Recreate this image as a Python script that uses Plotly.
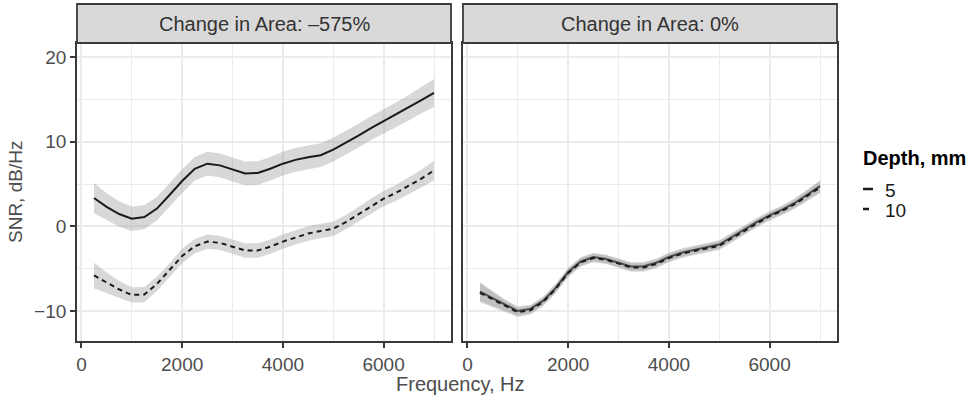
import plotly.graph_objects as go

W, H = 972, 403

# ---------------- data ----------------
freq = [250, 500, 750, 1000, 1250, 1500, 1750, 2000, 2250, 2500, 2750, 3000, 3250, 3500,
        3750, 4000, 4250, 4500, 4750, 5000, 5250, 5500, 5750, 6000, 6250, 6500, 6750, 7000]

panels = ["Change in Area: –575%", "Change in Area: 0%"]
depths = ["5", "10"]

# Change in Area -575%
snr_m575_d5 = [3.34, 2.3, 1.45, 0.9, 1.1, 2.1, 3.7, 5.35, 6.8, 7.4, 7.2, 6.7, 6.25, 6.3,
               6.8, 7.4, 7.85, 8.15, 8.4, 9.05, 9.85, 10.7, 11.6, 12.4, 13.2, 14.0, 14.9, 15.75]
se_m575_d5 = [1.8, 1.6, 1.5, 1.45, 1.4, 1.4, 1.4, 1.4, 1.4, 1.4, 1.4, 1.4, 1.4, 1.4,
              1.4, 1.4, 1.4, 1.4, 1.4, 1.4, 1.4, 1.4, 1.4, 1.4, 1.45, 1.5, 1.55, 1.65]
snr_m575_d10 = [-5.8, -6.65, -7.45, -8.1, -8.05, -6.8, -5.2, -3.5, -2.35, -1.8, -1.95, -2.4, -2.85, -2.85,
                -2.4, -1.8, -1.3, -0.85, -0.55, -0.28, 0.5, 1.42, 2.4, 3.27, 3.97, 4.76, 5.63, 6.6]
se_m575_d10 = [1.5, 1.2, 1.0, 0.9, 0.9, 0.85, 0.85, 0.85, 0.85, 0.85, 0.85, 0.85, 0.85, 0.85,
               0.85, 0.85, 0.85, 0.85, 0.85, 0.85, 0.85, 0.85, 0.9, 0.9, 0.95, 1.0, 1.05, 1.15]

# Change in Area 0%
snr_0_d5 = [-7.7, -8.5, -9.3, -10.0, -9.75, -8.8, -7.3, -5.4, -4.15, -3.62, -3.85, -4.3, -4.75, -4.72,
            -4.3, -3.62, -3.12, -2.78, -2.44, -2.15, -1.26, -0.37, 0.52, 1.3, 1.97, 2.76, 3.75, 4.75]
se_0_d5 = [1.1, 0.85, 0.65, 0.55, 0.5, 0.5, 0.5, 0.5, 0.5, 0.5, 0.5, 0.5, 0.5, 0.5,
           0.5, 0.5, 0.5, 0.5, 0.5, 0.5, 0.5, 0.5, 0.5, 0.5, 0.5, 0.55, 0.6, 0.7]
snr_0_d10 = [-7.85, -8.65, -9.45, -10.15, -9.9, -8.95, -7.4, -5.5, -4.25, -3.75, -3.95, -4.4, -4.85, -4.85,
             -4.45, -3.75, -3.25, -2.9, -2.58, -2.3, -1.4, -0.5, 0.4, 1.2, 1.85, 2.62, 3.6, 4.6]
se_0_d10 = [1.1, 0.85, 0.65, 0.55, 0.5, 0.5, 0.5, 0.5, 0.5, 0.5, 0.5, 0.5, 0.5, 0.5,
            0.5, 0.5, 0.5, 0.5, 0.5, 0.5, 0.5, 0.5, 0.5, 0.5, 0.5, 0.55, 0.6, 0.7]

x_ticks = [0, 2000, 4000, 6000]
y_ticks = [-10, 0, 10, 20]

series = [
    (0, "5", snr_m575_d5, se_m575_d5),
    (0, "10", snr_m575_d10, se_m575_d10),
    (1, "5", snr_0_d5, se_0_d5),
    (1, "10", snr_0_d10, se_0_d10),
]

# ---------------- style / layout ----------------
FONT = "Liberation Sans, Arial, Helvetica, sans-serif"
TICK_COL = "#4d4d4d"
BORDER = "#3a3a3a"
GRID = "#ebebeb"
RIBBON = "rgba(153,153,153,0.38)"
LINE = "#1a1a1a"
dash_style = {"5": "solid", "10": "5px,4px"}

def px_x(p):
    return p / W

def px_y(p):
    return 1 - p / H

x_domains = [[px_x(77), px_x(451)], [px_x(463), px_x(837)]]
y_domain = [px_y(341), px_y(43)]

fig = go.Figure()

for panel, depth, vals, se in series:
    xa = "x" if panel == 0 else "x2"
    ya = "y" if panel == 0 else "y2"
    upper = [v + s for v, s in zip(vals, se)]
    lower = [v - s for v, s in zip(vals, se)]
    fig.add_trace(go.Scatter(
        x=freq + freq[::-1], y=upper + lower[::-1],
        fill="toself", fillcolor=RIBBON, line=dict(width=0),
        mode="lines", hoverinfo="skip", showlegend=False, xaxis=xa, yaxis=ya))
    fig.add_trace(go.Scatter(
        x=freq, y=vals, mode="lines",
        line=dict(color=LINE, width=2, dash=dash_style[depth]),
        name=depth, showlegend=False, xaxis=xa, yaxis=ya))

x_range = [-87.5, 7337.5]
y_range = [-13.54, 21.65]

common_x = dict(
    range=x_range, tickvals=x_ticks, ticks="outside", ticklen=5, tickwidth=1.5,
    tickcolor=BORDER, showline=True, linecolor=BORDER, linewidth=1.8, mirror=True,
    showgrid=True, gridcolor=GRID, gridwidth=1.6, zeroline=False,
    tickfont=dict(family=FONT, size=19, color=TICK_COL),
    minor=dict(tickvals=[1000, 3000, 5000, 7000], showgrid=True, gridcolor=GRID, gridwidth=1.3, ticks=""),
)
common_y = dict(
    range=y_range, tickvals=y_ticks, showline=True, linecolor=BORDER, linewidth=1.8, mirror=True,
    showgrid=True, gridcolor=GRID, gridwidth=1.6, zeroline=False, domain=y_domain,
    tickfont=dict(family=FONT, size=19, color=TICK_COL),
    minor=dict(tickvals=[-5, 5, 15], showgrid=True, gridcolor=GRID, gridwidth=1.3, ticks=""),
)

fig.update_layout(
    width=W, height=H, margin=dict(l=0, r=0, t=0, b=0),
    paper_bgcolor="white", plot_bgcolor="white", showlegend=False,
    xaxis=dict(domain=x_domains[0], anchor="y", **common_x),
    xaxis2=dict(domain=x_domains[1], anchor="y2", **common_x),
    yaxis=dict(anchor="x", ticks="outside", ticklen=5, tickwidth=1.5, tickcolor=BORDER,
               showticklabels=True, **common_y),
    yaxis2=dict(anchor="x2", matches="y", ticks="", showticklabels=False, **common_y),
)

shapes = []
annotations = []
# strips
for i, title in enumerate(panels):
    x0, x1 = x_domains[i]
    shapes.append(dict(type="rect", xref="paper", yref="paper", x0=x0, x1=x1,
                       y0=px_y(43), y1=px_y(4), fillcolor="#d9d9d9",
                       line=dict(color=BORDER, width=1.8), layer="above"))
    annotations.append(dict(text=title, xref="paper", yref="paper", x=(x0 + x1) / 2,
                            y=px_y(24), xanchor="center", yanchor="middle", showarrow=False,
                            font=dict(family=FONT, size=20, color="#333333")))

# axis titles
annotations.append(dict(text="Frequency, Hz", xref="paper", yref="paper", x=px_x(460),
                        y=px_y(384), xanchor="center", yanchor="middle", showarrow=False,
                        font=dict(family=FONT, size=20, color=TICK_COL)))
annotations.append(dict(text="SNR, dB/Hz", xref="paper", yref="paper", x=px_x(15),
                        y=px_y(192), xanchor="center", yanchor="middle", showarrow=False,
                        textangle=-90, font=dict(family=FONT, size=19, color=TICK_COL)))

# legend (drawn manually to match the compact key)
annotations.append(dict(text="<b>Depth, mm</b>", xref="paper", yref="paper", x=px_x(861),
                        y=px_y(158), xanchor="left", yanchor="middle", showarrow=False,
                        font=dict(family=FONT, size=20, color="#000000")))
legend_rows = [(depths[0], 189), (depths[1], 209)]
for label, yc in legend_rows:
    annotations.append(dict(text=label, xref="paper", yref="paper", x=px_x(883),
                            y=px_y(yc + 1), xanchor="left", yanchor="middle", showarrow=False,
                            font=dict(family=FONT, size=19, color="#1a1a1a")))
    shapes.append(dict(type="line", xref="paper", yref="paper",
                       x0=px_x(863), x1=px_x(873),
                       y0=px_y(yc), y1=px_y(yc),
                       line=dict(color=LINE, width=2.5, dash="solid" if label == "5" else "6px,4px")))

fig.update_layout(shapes=shapes, annotations=annotations)

fig.write_html("out.html")
